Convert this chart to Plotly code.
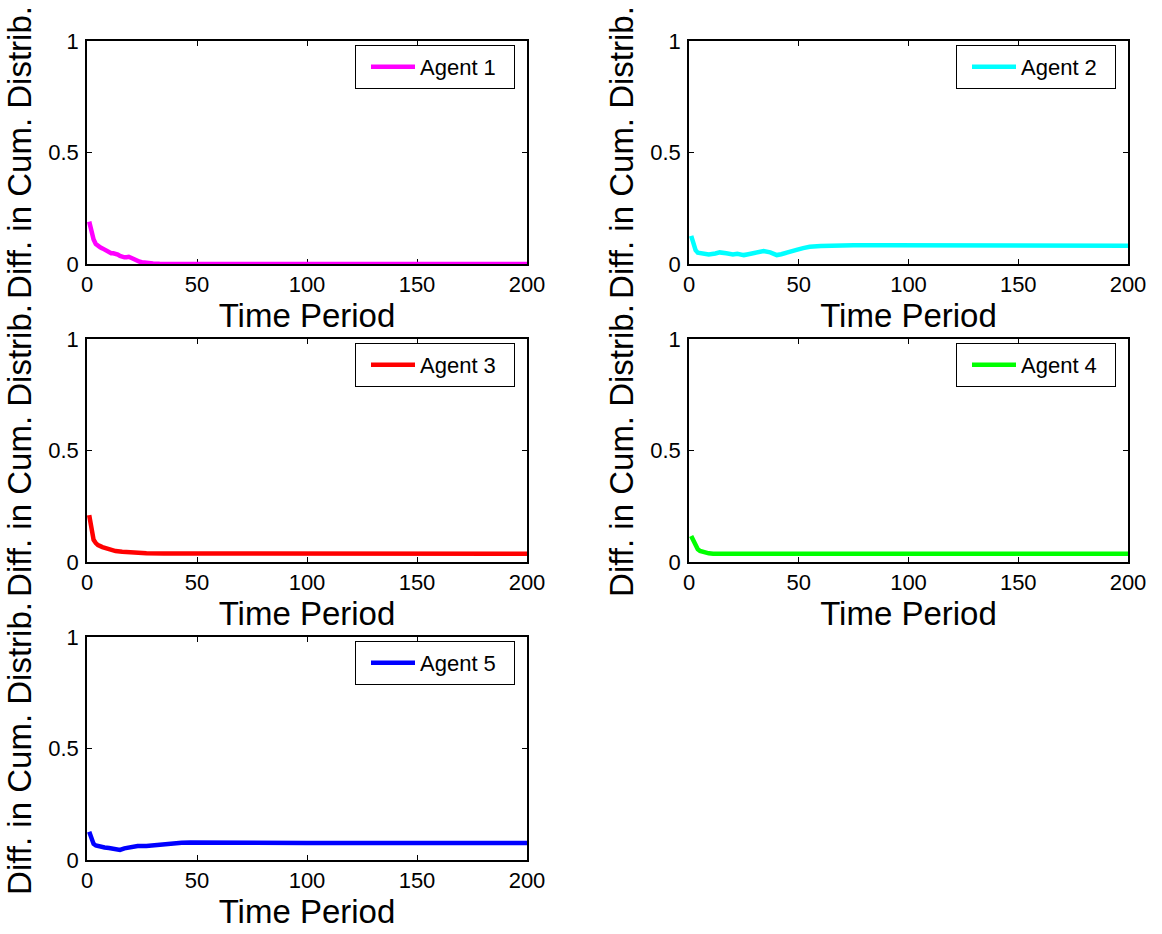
import plotly.graph_objects as go

# ---- data ----
agent1_x = [1, 2, 3, 4, 5, 6, 7, 8, 9, 10, 11, 12, 13, 14, 15, 16, 17, 18, 19, 20,
            21, 22, 23, 24, 25, 26, 28, 30, 33, 40, 60, 100, 150, 200]
agent1_y = [0.19, 0.14, 0.11, 0.09, 0.08, 0.075, 0.07, 0.065, 0.06, 0.052, 0.048, 0.048,
            0.046, 0.042, 0.036, 0.032, 0.030, 0.030, 0.032, 0.028, 0.022, 0.017, 0.013,
            0.010, 0.008, 0.006, 0.004, 0.002, 0.001, 0.0, 0.0, 0.0, 0.0, 0.0]

agent2_x = [1, 2, 3, 4, 6, 9, 12, 14, 17, 20, 22, 25, 27, 29, 32, 34, 37, 40, 42, 44,
            47, 49, 52, 55, 60, 66, 75, 91, 120, 150, 200]
agent2_y = [0.126, 0.085, 0.062, 0.051, 0.046, 0.043, 0.047, 0.052, 0.048, 0.043, 0.046,
            0.040, 0.044, 0.048, 0.054, 0.058, 0.052, 0.040, 0.044, 0.048, 0.055, 0.063,
            0.071, 0.077, 0.081, 0.083, 0.084, 0.084, 0.083, 0.082, 0.082]

agent3_x = [1, 2, 3, 4, 5, 7, 9, 11, 13, 16, 19, 23, 27, 35, 42, 60, 100, 150, 200]
agent3_y = [0.21, 0.143, 0.099, 0.085, 0.076, 0.067, 0.061, 0.055, 0.049, 0.046, 0.043,
            0.041, 0.039, 0.038, 0.038, 0.037, 0.037, 0.037, 0.037]

agent4_x = [1, 2, 3, 4, 5, 7, 9, 11, 15, 30, 60, 100, 150, 200]
agent4_y = [0.117, 0.095, 0.075, 0.057, 0.050, 0.042, 0.039, 0.037, 0.037, 0.037, 0.037,
            0.037, 0.037, 0.037]

agent5_x = [1, 2, 3, 4, 6, 8, 10, 12, 14, 15, 17, 19, 21, 23, 27, 30, 33, 36, 39, 43,
            47, 55, 70, 100, 150, 200]
agent5_y = [0.127, 0.09, 0.072, 0.065, 0.059, 0.056, 0.054, 0.051, 0.047, 0.045, 0.052,
            0.057, 0.060, 0.063, 0.063, 0.066, 0.070, 0.072, 0.075, 0.077, 0.078, 0.077,
            0.076, 0.076, 0.076, 0.076]

names = ["Agent 1", "Agent 2", "Agent 3", "Agent 4", "Agent 5"]
colors = ["#FF00FF", "#00FFFF", "#FF0000", "#00FF00", "#0000FF"]
xs = [agent1_x, agent2_x, agent3_x, agent4_x, agent5_x]
ys = [agent1_y, agent2_y, agent3_y, agent4_y, agent5_y]

x_ticks = [0, 50, 100, 150, 200]
y_ticks = [0, 0.5, 1]
y_ticktext = ["0", "0.5", "1"]
x_title = "Time Period"
y_title = "Diff. in Cum. Distrib."

# ---- layout geometry (pixels) ----
W, H = 1162, 934
col_px = [(87, 527), (689, 1128)]
row_px = [(41, 264), (339, 562), (637, 860)]
cells = [(0, 0), (1, 0), (0, 1), (1, 1), (0, 2)]

FONT = "Liberation Sans, Arial, Helvetica, sans-serif"

fig = go.Figure()
layout = dict(
    width=W, height=H,
    margin=dict(l=0, r=0, t=0, b=0, pad=0, autoexpand=False),
    paper_bgcolor="white", plot_bgcolor="white",
    font=dict(family=FONT, color="black", size=22),
)

for i, (c, r) in enumerate(cells):
    k = i + 1
    xa = "x" if k == 1 else f"x{k}"
    ya = "y" if k == 1 else f"y{k}"
    lg = "legend" if k == 1 else f"legend{k}"
    fig.add_trace(go.Scatter(
        x=xs[i], y=ys[i], mode="lines", name=names[i],
        line=dict(color=colors[i], width=4.5),
        xaxis=xa, yaxis=ya, legend=lg, showlegend=True,
    ))
    x0, x1 = col_px[c]
    y0, y1 = row_px[r]
    axis_common = dict(
        showline=True, linecolor="black", linewidth=1.5, mirror="ticks",
        ticks="inside", ticklen=5, tickwidth=1, tickcolor="black",
        showgrid=False, zeroline=False, automargin=False,
        tickfont=dict(size=22, family=FONT, color="black"),
        layer="below traces",
    )
    layout["xaxis" if k == 1 else f"xaxis{k}"] = dict(
        axis_common,
        domain=[x0 / W, x1 / W], range=[0, 200],
        tickvals=x_ticks, anchor=ya,
        title=dict(text=x_title, font=dict(size=33, family=FONT), standoff=0),
    )
    layout["yaxis" if k == 1 else f"yaxis{k}"] = dict(
        axis_common,
        domain=[1 - y1 / H, 1 - y0 / H], range=[0, 1],
        tickvals=y_ticks, ticktext=y_ticktext, anchor=xa,
        ticklabelstandoff=2,
        title=dict(text=y_title, font=dict(size=33, family=FONT), standoff=7),
    )
    layout[lg] = dict(
        x=(x1 - 12) / W, y=1 - (y0 + 4) / H, xanchor="right", yanchor="top",
        orientation="h", entrywidth=89, indentation=10, itemwidth=44,
        bgcolor="white", bordercolor="black", borderwidth=1,
        font=dict(size=22, family=FONT, color="black"),
    )

fig.update_layout(**layout)
fig.write_html("out.html")
